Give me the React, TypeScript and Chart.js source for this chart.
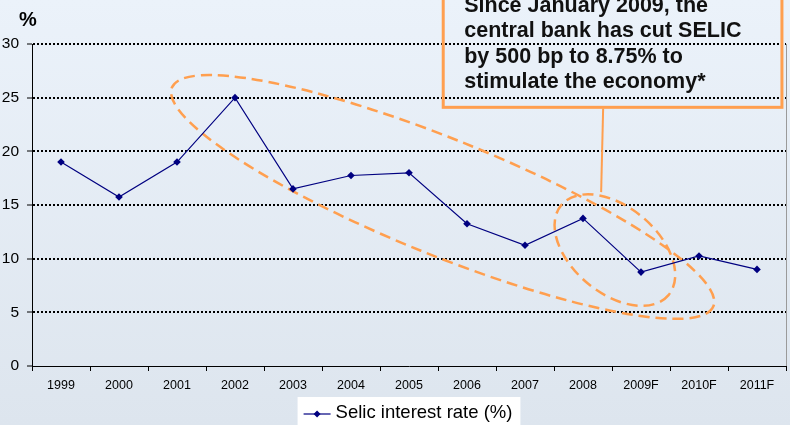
import React, { useEffect, useRef } from "react";
import { Chart, registerables } from "chart.js";

Chart.register(...registerables);

// Years on the category axis (forecast years carry an "F")
const years = [
  "1999", "2000", "2001", "2002", "2003", "2004", "2005",
  "2006", "2007", "2008", "2009F", "2010F", "2011F",
];

// Selic policy rate, % (year-end)
const selicRates = [19.0, 15.75, 19.0, 25.0, 16.5, 17.75, 18.0, 13.25, 11.25, 13.75, 8.75, 10.25, 9.0];

const seriesLabel = "Selic interest rate (%)";
const axisUnit = "%";

const calloutLines = [
  "Since January 2009, the",
  "central bank has cut SELIC",
  "by 500 bp to 8.75% to",
  "stimulate the economy*",
];

const FONT = "'Liberation Sans', Arial, Helvetica, sans-serif";
const ORANGE = "#FF9F4F";
const NAVY = "#000080";

// Dashed highlight rings, centred in data space (category index, rate)
const rings = [
  { cx: 6.58, cy: 15.75, rx: 292, ry: 58, angle: 22 },
  { cx: 9.55, cy: 10.8, rx: 70, ry: 43, angle: 40 },
];

// Callout box (data space) and its leader line
const callout = { left: 6.59, right: 12.43, bottom: 24.1 };
const leader = { x: 9.33, from: 24.0, to: 16.2 };

const overlayPlugin = {
  id: "selicOverlay",
  beforeDatasetsDraw(chart: any) {
    const { ctx } = chart;
    const xs = chart.scales.x;
    const ys = chart.scales.y;
    ctx.save();
    ctx.strokeStyle = ORANGE;
    ctx.lineWidth = 2.5;
    ctx.setLineDash([11, 6]);
    for (const r of rings) {
      ctx.beginPath();
      ctx.ellipse(
        xs.getPixelForValue(r.cx),
        ys.getPixelForValue(r.cy),
        r.rx,
        r.ry,
        (r.angle * Math.PI) / 180,
        0,
        Math.PI * 2
      );
      ctx.stroke();
    }
    ctx.restore();
  },
  afterDraw(chart: any) {
    const { ctx, chartArea } = chart;
    const xs = chart.scales.x;
    const ys = chart.scales.y;
    ctx.save();

    // plot frame, right edge
    ctx.strokeStyle = "#9a9a9a";
    ctx.lineWidth = 1;
    ctx.beginPath();
    ctx.moveTo(chartArea.right + 0.5, chartArea.top);
    ctx.lineTo(chartArea.right + 0.5, chartArea.bottom);
    ctx.stroke();

    // callout box
    const bl = xs.getPixelForValue(callout.left);
    const br = xs.getPixelForValue(callout.right);
    const bb = ys.getPixelForValue(callout.bottom);
    ctx.strokeStyle = ORANGE;
    ctx.lineWidth = 3;
    ctx.strokeRect(bl, -10, br - bl, bb + 10);

    // leader line
    ctx.lineWidth = 2;
    ctx.beginPath();
    const lx = xs.getPixelForValue(leader.x);
    ctx.moveTo(lx + 1, ys.getPixelForValue(leader.from));
    ctx.lineTo(lx - 1, ys.getPixelForValue(leader.to));
    ctx.stroke();

    // callout text
    ctx.fillStyle = "#111";
    ctx.font = `bold 21.5px ${FONT}`;
    ctx.textAlign = "left";
    ctx.textBaseline = "alphabetic";
    calloutLines.forEach((line, i) => {
      ctx.fillText(line, bl + 21, 12 + i * 25.3);
    });

    // unit label above the value axis
    ctx.font = `bold 20px ${FONT}`;
    ctx.fillStyle = "#000";
    ctx.textAlign = "center";
    ctx.fillText(axisUnit, 28, 26);

    // legend
    const midX = (chartArea.left + chartArea.right) / 2;
    ctx.font = `18.5px ${FONT}`;
    const tw = ctx.measureText(seriesLabel).width;
    const boxW = tw + 46;
    const boxL = midX - boxW / 2;
    ctx.fillStyle = "#ffffff";
    ctx.fillRect(boxL, 397, boxW, 40);
    const ly = 414;
    ctx.strokeStyle = NAVY;
    ctx.lineWidth = 1.2;
    ctx.beginPath();
    ctx.moveTo(boxL + 6, ly);
    ctx.lineTo(boxL + 33, ly);
    ctx.stroke();
    ctx.fillStyle = NAVY;
    ctx.beginPath();
    const mx = boxL + 19.5;
    ctx.moveTo(mx, ly - 3.5);
    ctx.lineTo(mx + 3.5, ly);
    ctx.lineTo(mx, ly + 3.5);
    ctx.lineTo(mx - 3.5, ly);
    ctx.closePath();
    ctx.fill();
    ctx.fillStyle = "#000";
    ctx.textAlign = "left";
    ctx.fillText(seriesLabel, boxL + 38, 418);

    ctx.restore();
  },
};

export default function App() {
  const canvasRef = useRef<HTMLCanvasElement | null>(null);

  useEffect(() => {
    document.body.style.margin = "0";
    const canvas = canvasRef.current;
    if (!canvas) return;
    const chart = new Chart(canvas, {
      type: "line",
      data: {
        labels: years,
        datasets: [
          {
            label: seriesLabel,
            data: selicRates,
            borderColor: NAVY,
            backgroundColor: NAVY,
            borderWidth: 1.2,
            pointStyle: "rectRot",
            pointRadius: 3.8,
            pointBorderWidth: 0,
            pointBackgroundColor: NAVY,
            tension: 0,
            fill: false,
          },
        ],
      },
      options: {
        animation: false,
        responsive: false,
        maintainAspectRatio: false,
        events: [],
        layout: { padding: { top: 44, right: 3, left: 0, bottom: 0 } },
        plugins: {
          legend: { display: false },
          tooltip: { enabled: false },
          title: { display: false },
        },
        scales: {
          x: {
            type: "category",
            offset: true,
            grid: {
              display: true,
              offset: true,
              drawOnChartArea: false,
              drawTicks: true,
              tickLength: 5,
              tickColor: "#000",
              tickWidth: 1,
            },
            border: { display: true, color: "#000", width: 1 },
            ticks: {
              color: "#000",
              font: { size: 12.5, family: FONT },
              padding: 7,
              maxRotation: 0,
              autoSkip: false,
            },
            afterFit: (s: any) => {
              s.height = 59;
            },
          },
          y: {
            min: 0,
            max: 30,
            ticks: {
              stepSize: 5,
              color: "#000",
              font: { size: 15.5, family: FONT },
              padding: 8,
            },
            grid: {
              color: (c: any) => (c.tick && c.tick.value === 0 ? "rgba(0,0,0,0)" : "#000"),
              lineWidth: 2,
              drawTicks: true,
              tickLength: 5,
              tickColor: "#000",
              tickWidth: 1,
            },
            border: { display: true, color: "#000", width: 1, dash: [2, 2] },
            afterFit: (s: any) => {
              s.width = 32;
            },
          },
        },
      },
      plugins: [overlayPlugin],
    });
    return () => chart.destroy();
  }, []);

  return (
    <div
      style={{
        position: "absolute",
        left: 0,
        top: 0,
        width: 790,
        height: 425,
        overflow: "hidden",
        background: "linear-gradient(to bottom, #EBF2FA, #DDE5EE)",
      }}
    >
      <canvas ref={canvasRef} width={790} height={425} style={{ display: "block" }} />
    </div>
  );
}
